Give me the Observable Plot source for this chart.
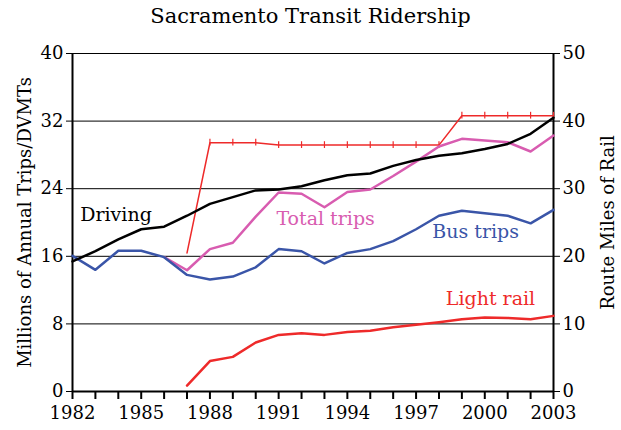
<!DOCTYPE html>
<html><head><meta charset="utf-8">
<script src="https://cdn.jsdelivr.net/npm/d3@7"></script>
<script src="https://cdn.jsdelivr.net/npm/@observablehq/plot@0.6"></script>
<style>
body{margin:0;background:#fff;}
#wrap{position:relative;width:621px;height:430px;}
#title{position:absolute;left:0;top:4px;width:621px;text-align:center;font-family:"DejaVu Serif",serif;font-size:21px;color:#000;z-index:2;}
#chart{position:absolute;left:0;top:0;}
</style></head>
<body><div id="wrap"><div id="title">Sacramento Transit Ridership</div><div id="chart"></div></div>
<script>
const years = d3.range(1982, 2004);
const driving = [15.4,16.6,18.0,19.2,19.5,20.8,22.2,23.0,23.8,23.9,24.3,25.0,25.6,25.8,26.7,27.4,27.9,28.2,28.7,29.3,30.5,32.4];
const busTrips = [16.05,14.4,16.65,16.65,15.9,13.8,13.25,13.6,14.7,16.85,16.6,15.15,16.4,16.85,17.8,19.2,20.8,21.4,21.1,20.8,19.9,21.5];
const totalYears = d3.range(1986, 2004);
const totalTrips = [15.9,14.35,16.85,17.6,20.7,23.55,23.4,21.8,23.6,23.9,25.5,27.2,29.0,29.9,29.7,29.5,28.4,30.3];
const railYears = d3.range(1987, 2004);
const lightRail = [0.7,3.6,4.1,5.8,6.7,6.9,6.7,7.05,7.2,7.6,7.9,8.2,8.55,8.75,8.7,8.55,8.95];
const routeMiles = [20.5,36.8,36.8,36.8,36.45,36.45,36.45,36.45,36.45,36.45,36.45,36.45,40.8,40.8,40.8,40.8,40.8];
const leftTicks = [0,8,16,24,32,40];
const rightTicks = [0,10,20,30,40,50];
const xTickLabels = [1982,1985,1988,1991,1994,1997,2000,2003];
const seriesLabels = [
  {text:"Driving", year:1983.9, value:20.9, color:"#000000"},
  {text:"Total trips", year:1993.05, value:20.4, color:"#d85cb0"},
  {text:"Bus trips", year:1999.6, value:18.9, color:"#3a55a8"},
  {text:"Light rail", year:2000.25, value:11.0, color:"#ee2a2a"}
];
const scaleR = 40/50;

const mk = (xs, ys) => xs.map((x,i)=>({x, y: ys[i]}));
const drivingD = mk(years, driving);
const busD = mk(years, busTrips);
const totalD = mk(totalYears, totalTrips);
const railD = mk(railYears, lightRail);
const milesD = mk(railYears, routeMiles);

const font = "DejaVu Serif, serif";
const chart = Plot.plot({
  width: 621, height: 430,
  marginTop: 53, marginBottom: 39, marginLeft: 72, marginRight: 68,
  style: {fontFamily: font, fontSize: "18px", color: "#000", background: "transparent"},
  x: {type: "linear", domain: [1982, 2003]},
  y: {type: "linear", domain: [0, 40]},
  marks: [
    Plot.ruleY(leftTicks.slice(1), {stroke: "#000", strokeWidth: 1}),
    Plot.axisX({ticks: years, tickSize: 8, tickFormat: () => "", strokeWidth: 2}),
    Plot.axisX({ticks: xTickLabels, tickSize: 0, tickPadding: 15, tickFormat: d => String(d), fontSize: 18}),
    Plot.axisY({ticks: leftTicks, tickSize: 6, anchor: "left", tickPadding: 3, fontSize: 18,
      label: "Millions of Annual Trips/DVMTs", labelAnchor: "center", labelArrow: "none", labelOffset: 54}),
    Plot.axisY({ticks: rightTicks.map(d=>d*scaleR), anchor: "right", tickSize: 6, tickPadding: 3, fontSize: 18,
      tickFormat: d => String(Math.round(d/scaleR)),
      label: "Route Miles of Rail", labelAnchor: "center", labelArrow: "none", labelOffset: 60}),
    Plot.ruleX([1982], {stroke:"#000", strokeWidth: 2}),
    Plot.ruleX([2003], {stroke:"#000", strokeWidth: 2}),
    Plot.ruleY([0], {stroke:"#000", strokeWidth: 2}),
    Plot.line(milesD, {x:"x", y: d => d.y*scaleR, stroke:"#ee2a2a", strokeWidth: 1.5}),
    Plot.ruleX(milesD.slice(1), {x:"x", y1: d => d.y*scaleR - 0.4, y2: d => d.y*scaleR + 0.4, stroke:"#ee2a2a", strokeWidth: 1.2}),
    Plot.line(totalD, {x:"x", y:"y", stroke:"#d85cb0", strokeWidth: 2.5}),
    Plot.line(busD, {x:"x", y:"y", stroke:"#3a55a8", strokeWidth: 2.5}),
    Plot.line(drivingD, {x:"x", y:"y", stroke:"#000", strokeWidth: 2.5}),
    Plot.line(railD, {x:"x", y:"y", stroke:"#ee2a2a", strokeWidth: 2.5}),
    Plot.text(seriesLabels, {x:"year", y:"value", text:"text", fill: d=>d.color, fontSize: 19, fontFamily: font})
  ]
});
document.getElementById("chart").appendChild(chart);
</script></body></html>
